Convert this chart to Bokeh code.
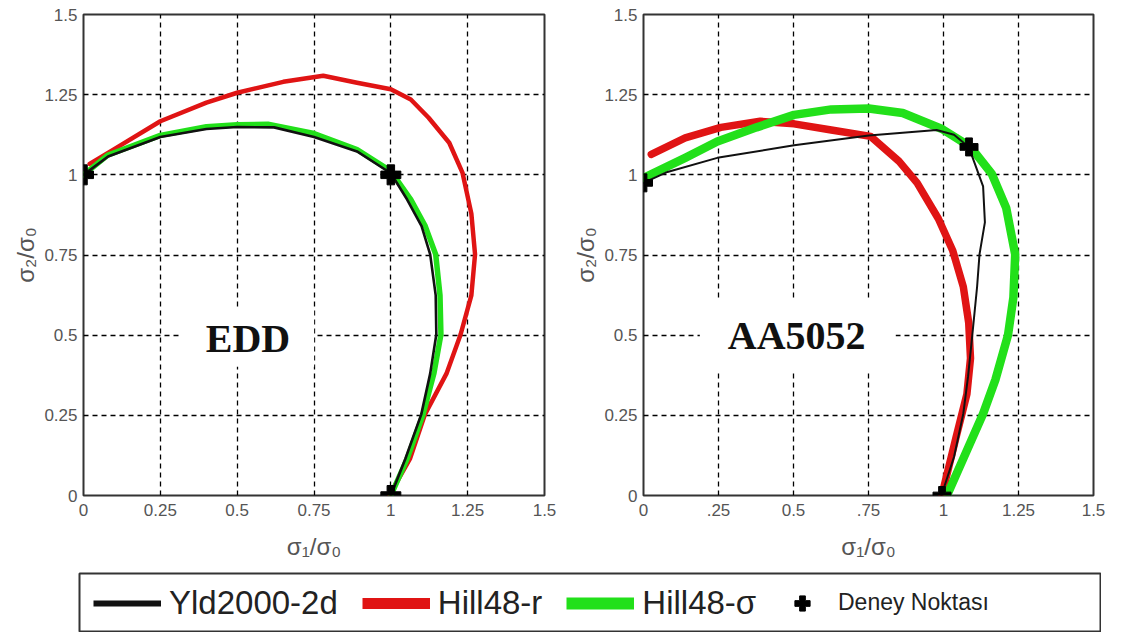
from bokeh.plotting import figure
from bokeh.layouts import column, row
from bokeh.models import FixedTicker, Label, Legend, LegendItem, Range1d
from bokeh.embed import file_html
from bokeh.resources import INLINE

# ---------------- data ----------------
ticks = [0, 0.25, 0.5, 0.75, 1.0, 1.25, 1.5]
edd_xtick_labels = ["0", "0.25", "0.5", "0.75", "1", "1.25", "1.5"]
aa_xtick_labels = ["0", ".25", "0.5", ".75", "1", "1.25", "1.5"]
ytick_labels = ["0", "0.25", "0.5", "0.75", "1", "1.25", "1.5"]

series_names = ["Yld2000-2d", "Hill48-r", "Hill48-σ", "Deney Noktası"]

# EDD panel
edd_yld_x = [0, 0.08, 0.25, 0.4, 0.5, 0.62, 0.75, 0.89, 1.0, 1.053, 1.1, 1.128, 1.146, 1.148, 1.128, 1.099, 1.047, 1.0]
edd_yld_y = [1.0, 1.057, 1.118, 1.143, 1.149, 1.148, 1.118, 1.073, 1.005, 0.923, 0.84, 0.752, 0.624, 0.502, 0.38, 0.253, 0.114, 0.0]
edd_hr_x = [0.02, 0.1, 0.25, 0.4, 0.5, 0.65, 0.78, 0.89, 1.0, 1.065, 1.123, 1.19, 1.233, 1.262, 1.274, 1.262, 1.227, 1.181, 1.111, 1.062, 0.995]
edd_hr_y = [1.034, 1.08, 1.167, 1.225, 1.256, 1.29, 1.309, 1.287, 1.267, 1.235, 1.178, 1.1, 1.007, 0.879, 0.752, 0.624, 0.502, 0.38, 0.253, 0.114, 0.0]
edd_hs_x = [0, 0.08, 0.25, 0.4, 0.5, 0.6, 0.75, 0.89, 1.0, 1.065, 1.112, 1.146, 1.16, 1.163, 1.14, 1.105, 1.053, 1.0]
edd_hs_y = [1.0, 1.062, 1.123, 1.15, 1.156, 1.158, 1.129, 1.079, 1.012, 0.923, 0.84, 0.752, 0.624, 0.502, 0.38, 0.253, 0.114, 0.0]
edd_exp_x = [0, 1.0, 1.0]
edd_exp_y = [1.0, 1.0, 0.0]

# AA5052 panel
aa_yld_x = [0, 0.08, 0.246, 0.502, 0.751, 0.977, 1.035, 1.084, 1.132, 1.138, 1.12, 1.112, 1.096, 1.082, 1.066, 1.035, 0.993]
aa_yld_y = [0.975, 1.009, 1.053, 1.092, 1.123, 1.14, 1.125, 1.087, 0.964, 0.852, 0.752, 0.651, 0.5, 0.372, 0.255, 0.12, 0.0]
aa_hr_x = [0.026, 0.139, 0.258, 0.389, 0.502, 0.626, 0.757, 0.852, 0.912, 0.983, 1.031, 1.066, 1.084, 1.09, 1.078, 1.042, 0.995]
aa_hr_y = [1.064, 1.115, 1.148, 1.167, 1.159, 1.14, 1.12, 1.042, 0.975, 0.863, 0.763, 0.651, 0.539, 0.428, 0.316, 0.182, 0.003]
aa_hs_x = [0.0, 0.139, 0.246, 0.377, 0.502, 0.626, 0.751, 0.864, 0.995, 1.09, 1.161, 1.209, 1.239, 1.233, 1.215, 1.173, 1.132, 1.066, 1.013]
aa_hs_y = [0.99, 1.053, 1.104, 1.148, 1.187, 1.204, 1.207, 1.193, 1.143, 1.087, 1.003, 0.897, 0.752, 0.618, 0.5, 0.361, 0.255, 0.115, 0.003]
aa_exp_x = [0, 1.085, 0.995]
aa_exp_y = [0.975, 1.087, 0.0]

BLACK = "#111111"
RED = "#e01414"
GREEN = "#22e01a"
FONT = "Liberation Sans"
NAN = float("nan")


def make_panel(width, mleft, mright, xlabels, name, name_x, name_y, pad,
               yld, hr, hs, exp, widths, msize):
    p = figure(width=width, height=570, x_range=Range1d(0, 1.5), y_range=Range1d(0, 1.5),
               output_backend="svg", toolbar_location=None,
               min_border_left=mleft, min_border_right=mright, min_border_top=14, min_border_bottom=75,
               background_fill_color="white", border_fill_color="white")
    p.xaxis.ticker = FixedTicker(ticks=ticks)
    p.yaxis.ticker = FixedTicker(ticks=ticks)
    p.xaxis.major_label_overrides = {t: s for t, s in zip(ticks, xlabels)}
    p.yaxis.major_label_overrides = {t: s for t, s in zip(ticks, ytick_labels)}
    for ax in p.axis:
        ax.major_tick_in = 0
        ax.major_tick_out = 0
        ax.minor_tick_line_color = None
        ax.axis_line_color = None
        ax.major_label_text_font = FONT
        ax.major_label_text_font_size = "17px"
        ax.major_label_text_color = "#555555"
        ax.axis_label_text_font = FONT
        ax.axis_label_text_font_size = "24px"
        ax.axis_label_text_font_style = "normal"
        ax.axis_label_text_color = "#555555"
    p.xaxis.major_label_standoff = 8
    p.yaxis.major_label_standoff = 6
    p.xaxis.axis_label_standoff = 14
    p.yaxis.axis_label_standoff = 2
    p.xaxis.axis_label = "σ₁/σ₀"
    p.yaxis.axis_label = "σ₂/σ₀"
    p.grid.grid_line_color = "black"
    p.grid.grid_line_dash = "5 4"
    p.grid.grid_line_width = 1.3
    p.outline_line_color = "#333333"
    p.outline_line_width = 2
    p.outline_line_alpha = 1

    p.line(hr[0], hr[1], color=RED, line_width=widths[1], line_cap="round", line_join="round")
    p.line(hs[0], hs[1], color=GREEN, line_width=widths[2], line_cap="round", line_join="round")
    p.line(yld[0], yld[1], color=BLACK, line_width=widths[0], line_cap="round", line_join="round")
    p.scatter(exp[0], exp[1], marker="plus", size=msize, color="black")

    lab = Label(x=name_x, y=name_y, text=name, text_font="Liberation Serif", text_font_style="bold",
                text_font_size="40px", text_color="#111111", text_align="center", text_baseline="middle",
                background_fill_color="white", background_fill_alpha=1.0, padding=pad)
    p.add_layout(lab)
    return p


p1 = make_panel(568, 83, 24, edd_xtick_labels, "EDD", 0.535, 0.49,
                dict(left=24, right=24, top=6, bottom=6),
                (edd_yld_x, edd_yld_y), (edd_hr_x, edd_hr_y), (edd_hs_x, edd_hs_y),
                (edd_exp_x, edd_exp_y), (2.6, 4.5, 5.5), 20)
p2 = make_panel(545, 75, 20, aa_xtick_labels, "AA5052", 0.514, 0.498,
                dict(left=28, right=30, top=14, bottom=14),
                (aa_yld_x, aa_yld_y), (aa_hr_x, aa_hr_y), (aa_hs_x, aa_hs_y),
                (aa_exp_x, aa_exp_y), (2.0, 7.5, 8.5), 18)

# ---------------- legend box ----------------
p3 = figure(width=1101, height=62, x_range=Range1d(0, 1), y_range=Range1d(0, 1),
            x_axis_type=None, y_axis_type=None, output_backend="svg", toolbar_location=None,
            min_border_left=79, min_border_right=0, min_border_top=3, min_border_bottom=0,
            outline_line_color="#333333", outline_line_width=2,
            background_fill_color="white", border_fill_color="white")
# legend proxies (single NaN point each, nothing drawn in the box itself)
rb = p3.line([NAN], [NAN], color=BLACK, line_width=6)
rr = p3.line([NAN], [NAN], color=RED, line_width=11)
rg = p3.line([NAN], [NAN], color=GREEN, line_width=12)
rm = p3.scatter([NAN], [NAN], marker="plus", size=18, color="black")

leg1 = Legend(items=[LegendItem(label=series_names[0], renderers=[rb]),
                     LegendItem(label=series_names[1], renderers=[rr]),
                     LegendItem(label=series_names[2], renderers=[rg])],
              orientation="horizontal", location="left", margin=14, padding=0, spacing=24,
              glyph_width=68, glyph_height=20, label_standoff=8,
              label_text_font=FONT, label_text_font_size="33px", label_text_color="#222222",
              border_line_color=None, background_fill_alpha=0)
leg2 = Legend(items=[LegendItem(label=series_names[3], renderers=[rm])],
              orientation="horizontal", location="left", margin=704, padding=0,
              glyph_width=38, glyph_height=38, label_standoff=17,
              label_text_font=FONT, label_text_font_size="23px", label_text_color="#222222",
              border_line_color=None, background_fill_alpha=0)
p3.add_layout(leg1)
p3.add_layout(leg2)

layout = column(row(p1, p2), p3)
open("out.html", "w").write(file_html(layout, INLINE, "Yield loci"))
